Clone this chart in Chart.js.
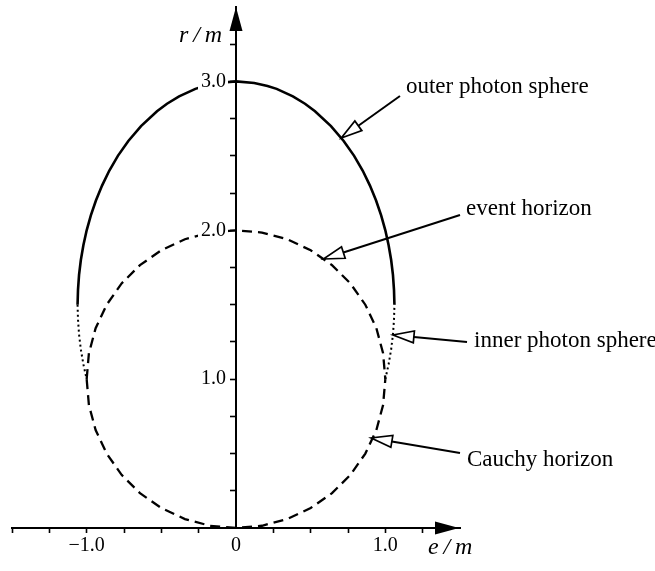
<!DOCTYPE html>
<html><head><meta charset="utf-8">
<script src="https://cdn.jsdelivr.net/npm/chart.js@4.4.0/dist/chart.umd.min.js"></script>
<style>html,body{margin:0;padding:0;background:#fff;}#wrap{width:655px;height:571px;position:relative;}canvas{display:block;}</style>
</head><body><div id="wrap"><canvas id="c" width="655" height="571" style="width:655px;height:571px"></canvas></div>
<script>
// ---- data (e/m on x, r/m on y) ----
const outerPhotonE = [-1.061,-1.058,-1.051,-1.039,-1.022,-1.000,-0.972,-0.938,-0.897,-0.849,-0.791,-0.721,-0.636,-0.529,-0.462,-0.381,-0.272,-0.211,-0.122,0,0.122,0.211,0.272,0.381,0.462,0.529,0.636,0.721,0.791,0.849,0.897,0.938,0.972,1.000,1.022,1.039,1.051,1.058,1.061];
const outerPhotonR = [1.5,1.6,1.7,1.8,1.9,2.0,2.1,2.2,2.3,2.4,2.5,2.6,2.7,2.8,2.85,2.9,2.95,2.97,2.99,3.0,2.99,2.97,2.95,2.9,2.85,2.8,2.7,2.6,2.5,2.4,2.3,2.2,2.1,2.0,1.9,1.8,1.7,1.6,1.5];

const innerPhotonLeftE  = [-1.061,-1.058,-1.051,-1.039,-1.022,-1.000];
const innerPhotonLeftR  = [1.5,1.4,1.3,1.2,1.1,1.0];
const innerPhotonRightE = [1.000,1.022,1.039,1.051,1.058,1.061];
const innerPhotonRightR = [1.0,1.1,1.2,1.3,1.4,1.5];

const eventHorizonE = [-1.000,-0.985,-0.940,-0.866,-0.766,-0.643,-0.500,-0.342,-0.174,0,0.174,0.342,0.500,0.643,0.766,0.866,0.940,0.985,1.000];
const eventHorizonR = [1.000,1.174,1.342,1.500,1.643,1.766,1.866,1.940,1.985,2.000,1.985,1.940,1.866,1.766,1.643,1.500,1.342,1.174,1.000];

const cauchyHorizonE = [-1.000,-0.985,-0.940,-0.866,-0.766,-0.643,-0.500,-0.342,-0.174,0,0.174,0.342,0.500,0.643,0.766,0.866,0.940,0.985,1.000];
const cauchyHorizonR = [1.000,0.826,0.658,0.500,0.357,0.234,0.134,0.060,0.015,0,0.015,0.060,0.134,0.234,0.357,0.500,0.658,0.826,1.000];

const xTickLabels = {'-1': '\u22121.0', '0': '0', '1': '1.0'};
const yTickLabels = {'1': '1.0', '2': '2.0', '3': '3.0'};
const xTitle = 'e\u2009/\u2009m';
const yTitle = 'r\u2009/\u2009m';
const annotationLabels = ['outer photon sphere', 'event horizon', 'inner photon sphere', 'Cauchy horizon'];

// ---- helpers ----
function pts(xs, ys) { return xs.map((x, i) => ({x: x, y: ys[i]})); }

const SERIF = '"Liberation Serif", "Times New Roman", serif';
const GAP = '\u2002';

// annotation geometry (data coordinates)
const annotationGeom = [
  {text: [1.138, 2.922], from: [1.098, 2.902], tip: [0.705, 2.620]},
  {text: [1.540, 2.103], from: [1.500, 2.103], tip: [0.585, 1.807]},
  {text: [1.594, 1.216], from: [1.547, 1.250], tip: [1.051, 1.297]},
  {text: [1.547, 0.4165], from: [1.500, 0.504], tip: [0.905, 0.605]}
];

const decorPlugin = {
  id: 'decor',
  beforeDraw(chart) {
    const ctx = chart.ctx;
    ctx.save();
    ctx.fillStyle = '#fff';
    ctx.fillRect(0, 0, chart.width, chart.height);
    ctx.restore();
  },
  afterDatasetsDraw(chart) {
    // knock the curves out behind the r/m tick labels (the y axis labels are drawn after this, z = 1)
    const ctx = chart.ctx;
    const xs = chart.scales.x, ys = chart.scales.y;
    const x0 = xs.getPixelForValue(0);
    ctx.save();
    ctx.font = '20px ' + SERIF;
    const gapW = ctx.measureText(GAP).width;
    ctx.fillStyle = '#fff';
    Object.keys(yTickLabels).forEach(k => {
      const w = ctx.measureText(yTickLabels[k]).width;
      const py = ys.getPixelForValue(Number(k));
      ctx.fillRect(x0 - gapW - w - 3, py - 9, w + 5, 18);
    });
    ctx.restore();
  },
  afterDraw(chart) {
    const ctx = chart.ctx;
    const xs = chart.scales.x, ys = chart.scales.y;
    const X = v => xs.getPixelForValue(v), Y = v => ys.getPixelForValue(v);
    const x0 = X(0), y0 = Y(0);
    ctx.save();
    ctx.fillStyle = '#000';
    ctx.strokeStyle = '#000';
    // axis arrowheads
    const yTop = Y(ys.max);
    ctx.beginPath();
    ctx.moveTo(x0, yTop);
    ctx.lineTo(x0 - 6.5, yTop + 24);
    ctx.lineTo(x0 + 6.5, yTop + 24);
    ctx.closePath();
    ctx.fill();
    const xRight = X(xs.max) - 1;
    ctx.beginPath();
    ctx.moveTo(xRight, y0);
    ctx.lineTo(xRight - 24, y0 - 6.5);
    ctx.lineTo(xRight - 24, y0 + 6.5);
    ctx.closePath();
    ctx.fill();
    // axis titles
    ctx.font = 'italic 24px ' + SERIF;
    ctx.textBaseline = 'alphabetic';
    ctx.textAlign = 'right';
    ctx.fillText(yTitle, x0 - 14, yTop + 35);
    ctx.textAlign = 'left';
    ctx.fillText(xTitle, xRight - 31, y0 + 26);
    // annotations
    ctx.font = '23px ' + SERIF;
    ctx.textAlign = 'left';
    annotationGeom.forEach((g, i) => {
      ctx.fillStyle = '#000';
      ctx.fillText(annotationLabels[i], X(g.text[0]), Y(g.text[1]));
      const sx = X(g.from[0]), sy = Y(g.from[1]);
      const tx = X(g.tip[0]), ty = Y(g.tip[1]);
      const dx = sx - tx, dy = sy - ty;
      const len = Math.hypot(dx, dy);
      const ux = dx / len, uy = dy / len;
      const L = 21, hw = 6;
      const bx = tx + ux * L, by = ty + uy * L;
      ctx.lineWidth = 2;
      ctx.beginPath();
      ctx.moveTo(sx, sy);
      ctx.lineTo(bx, by);
      ctx.stroke();
      ctx.beginPath();
      ctx.moveTo(tx, ty);
      ctx.lineTo(bx - uy * hw, by + ux * hw);
      ctx.lineTo(bx + uy * hw, by - ux * hw);
      ctx.closePath();
      ctx.fillStyle = '#fff';
      ctx.fill();
      ctx.lineWidth = 1.7;
      ctx.stroke();
    });
    ctx.restore();
  }
};

const hiddenX = v => v === 0 || v >= 1.5;
const hiddenY = v => v === 0 || v >= 3.5;

new Chart(document.getElementById('c'), {
  type: 'scatter',
  data: {
    datasets: [
      {label: 'outer photon sphere', data: pts(outerPhotonE, outerPhotonR), showLine: true, borderColor: '#000', borderWidth: 2.6, pointRadius: 0, tension: 0},
      {label: 'inner photon sphere', data: pts(innerPhotonLeftE, innerPhotonLeftR), showLine: true, borderColor: '#000', borderWidth: 2, borderDash: [2, 3], pointRadius: 0, tension: 0},
      {label: 'inner photon sphere ', data: pts(innerPhotonRightE, innerPhotonRightR), showLine: true, borderColor: '#000', borderWidth: 2, borderDash: [2, 3], pointRadius: 0, tension: 0},
      {label: 'event horizon', data: pts(eventHorizonE, eventHorizonR), showLine: true, borderColor: '#000', borderWidth: 2.3, borderDash: [10, 6], pointRadius: 0, tension: 0},
      {label: 'Cauchy horizon', data: pts(cauchyHorizonE, cauchyHorizonR), showLine: true, borderColor: '#000', borderWidth: 2.3, borderDash: [10, 6], pointRadius: 0, tension: 0}
    ]
  },
  options: {
    responsive: false,
    maintainAspectRatio: false,
    animation: false,
    devicePixelRatio: 1,
    layout: {padding: {left: 12, right: 195, top: 7, bottom: 43}},
    plugins: {legend: {display: false}, tooltip: {enabled: false}, title: {display: false}},
    scales: {
      x: {
        type: 'linear', min: -1.5, max: 1.5,
        position: {y: 0},
        border: {display: true, color: '#000', width: 2},
        grid: {drawOnChartArea: false, drawTicks: true, tickLength: 4, tickWidth: 1.6,
               tickColor: c => (c.tick && hiddenX(c.tick.value)) ? 'rgba(0,0,0,0)' : '#000'},
        ticks: {stepSize: 0.25, autoSkip: false, maxRotation: 0, padding: 2, color: '#000',
                font: {family: SERIF, size: 20},
                callback: v => (v >= 1.5) ? null : (xTickLabels[String(v)] || '')}
      },
      y: {
        type: 'linear', min: 0, max: 3.5,
        position: {x: 0},
        border: {display: true, color: '#000', width: 2, z: 1},
        grid: {drawOnChartArea: false, drawTicks: true, tickLength: 5, tickWidth: 1.6, z: 1,
               tickColor: c => (c.tick && hiddenY(c.tick.value)) ? 'rgba(0,0,0,0)' : '#000'},
        ticks: {stepSize: 0.25, autoSkip: false, padding: 0, color: '#000', z: 1,
                font: {family: SERIF, size: 20, lineHeight: 0.6},
                callback: v => (v === 0 || v >= 3.5) ? null : (yTickLabels[String(v)] ? yTickLabels[String(v)] + GAP : '')}
      }
    }
  },
  plugins: [decorPlugin]
});
</script>
</body></html>
